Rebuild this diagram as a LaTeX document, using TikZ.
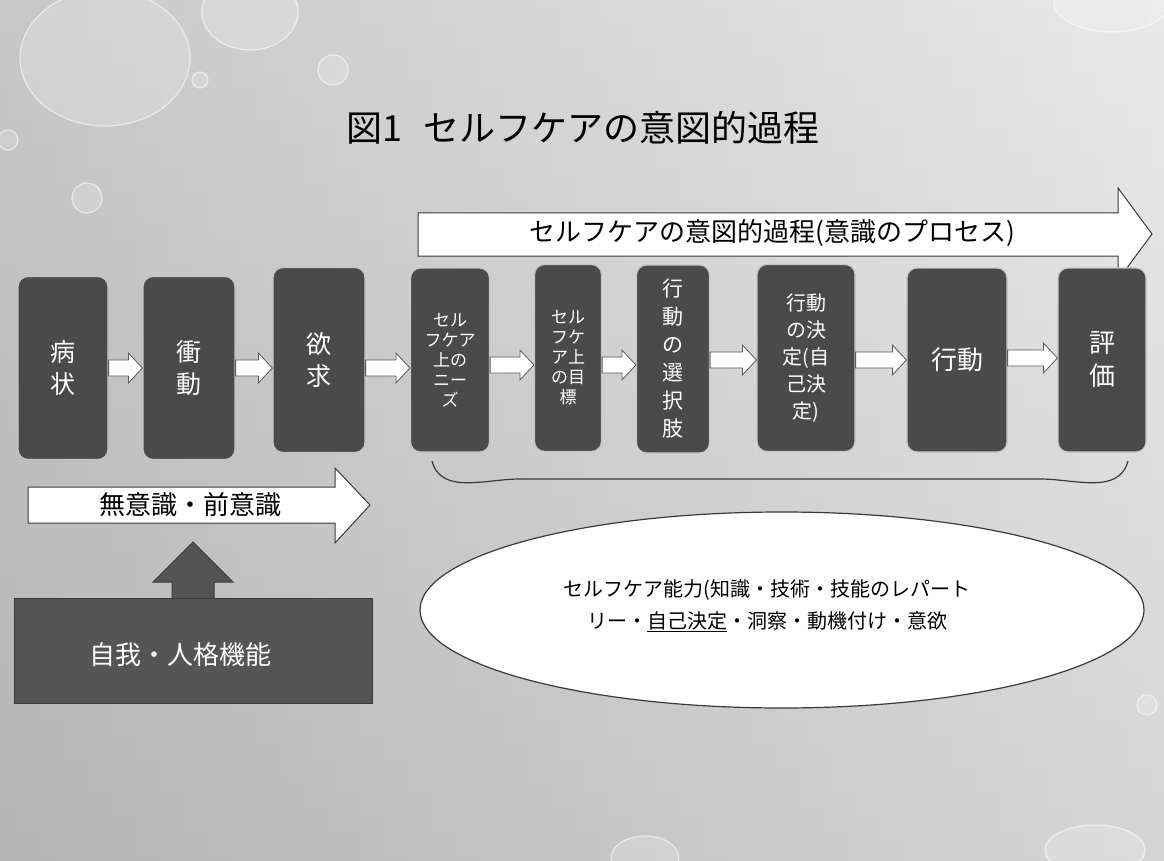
\documentclass[tikz,border=0pt]{standalone}
\usepackage{fontspec}
\setmainfont{Noto Sans CJK JP}
\usetikzlibrary{calc}
\definecolor{boxgray}{HTML}{4A4A4A}
\definecolor{darkgray2}{HTML}{555555}
\definecolor{edgegray}{HTML}{3A3A3A}
\tikzset{
  box/.style={rounded corners=10pt, fill=boxgray, draw=gray!45, line width=1.2pt,
    text=white, align=center, inner sep=0pt},
  barrowstyle/.style={fill=white, draw=gray!70!black, line width=0.8pt},
  bigarrow/.style={fill=white, draw=edgegray, line width=1pt},
  drop/.style={fill=white, fill opacity=0.2, draw=white, draw opacity=0.6, line width=1.2pt},
}
\newcommand\barrow[3]{%
  \path let \p1=(#1.east |- 0,#3), \p2=(#2.west |- 0,#3) in
  [barrowstyle] (\x1,{\y1+8pt}) -- ({\x2-14pt},{\y1+8pt}) -- ({\x2-14pt},{\y1+15pt})
  -- (\x2,\y1) -- ({\x2-14pt},{\y1-15pt}) -- ({\x2-14pt},{\y1-8pt}) -- (\x1,{\y1-8pt}) -- cycle;}
\begin{document}
\begin{tikzpicture}[x=1pt,y=-1pt]
\useasboundingbox (0,0) rectangle (1164,861);
% background
\shade[left color=gray!62, right color=gray!25] (0,0) rectangle (1164,861);
\shade[top color=white, bottom color=gray!50, opacity=0.3] (0,0) rectangle (1164,861);
% droplets
\draw[drop] (105,58) ellipse [x radius=85, y radius=68];
\draw[drop] (250,12) ellipse [x radius=48, y radius=38];
\draw[drop] (333,70) circle (15);
\draw[drop] (87,198) circle (15);
\draw[drop] (200,80) circle (8);
\draw[drop] (1112,2) ellipse [x radius=58, y radius=30];
\draw[drop] (645,858) ellipse [x radius=34, y radius=22];
\draw[drop] (1147,705) circle (10);
\draw[drop] (8,140) circle (10);
\draw[drop] (1095,850) ellipse [x radius=50, y radius=25];

% title
\node[font=\fontsize{36}{40}\selectfont] (title) at (583,128) {図1\hspace{0.6em}セルフケアの意図的過程};

% top big arrow
\path[bigarrow] (418,213) -- (1118,213) -- (1118,188) -- (1152,234) -- (1118,280) -- (1118,256) -- (418,256) -- cycle;
\node[font=\fontsize{26}{30}\selectfont] (toplabel) at (772,233) {セルフケアの意図的過程(意識のプロセス)};

% boxes
\node[box, font=\fontsize{25}{32}\selectfont, minimum width=90pt, minimum height=183pt] (b1) at (63,368) {病\\状};
\node[box, font=\fontsize{25}{32}\selectfont, minimum width=92pt, minimum height=183pt] (b2) at (189,368) {衝\\動};
\node[box, font=\fontsize{25}{32}\selectfont, minimum width=92pt, minimum height=185pt] (b3) at (319,360) {欲\\求};
\node[box, font=\fontsize{17}{20}\selectfont, minimum width=79pt, minimum height=184pt] (b4) at (450,360) {セル\\フケア\\上の\\ニー\\ズ};
\node[box, font=\fontsize{17}{20}\selectfont, minimum width=67pt, minimum height=187pt] (b5) at (568,358) {セル\\フケ\\ア上\\の目\\標};
\node[box, font=\fontsize{21}{28}\selectfont, minimum width=73pt, minimum height=188pt] (b6) at (673,359) {行\\動\\の\\選\\択\\肢};
\node[box, font=\fontsize{20}{27}\selectfont, minimum width=98pt, minimum height=187pt] (b7) at (806,358) {行動\\の決\\定(自\\己決\\定)};
\node[box, font=\fontsize{26}{30}\selectfont, minimum width=100pt, minimum height=184pt] (b8) at (957,360) {行動};
\node[box, font=\fontsize{26}{33}\selectfont, minimum width=88pt, minimum height=184pt] (b9) at (1102,360) {評\\価};

% arrows between boxes
\barrow{b1}{b2}{368}
\barrow{b2}{b3}{368}
\barrow{b3}{b4}{368}
\barrow{b4}{b5}{365}
\barrow{b5}{b6}{365}
\barrow{b6}{b7}{360}
\barrow{b7}{b8}{360}
\barrow{b8}{b9}{358}

% brace-like arc under boxes 4-9
\draw[edgegray, line width=1.2pt] (432,461) to[out=-75,in=180] (520,479) -- (1040,479) to[out=0,in=-105] (1128,461);

% unconscious arrow
\path[bigarrow] (28,487) -- (335,487) -- (335,468) -- (370,505) -- (335,543) -- (335,523) -- (28,523) -- cycle;
\node[font=\fontsize{26}{30}\selectfont] (uncon) at (190,505) {無意識・前意識};

% ego box and up arrow
\path[fill=darkgray2, draw=edgegray, line width=1pt] (172,599) -- (172,582) -- (153,582) -- (193,542) -- (233,582) -- (214,582) -- (214,599) -- cycle;
\node[fill=darkgray2, draw=edgegray, line width=1pt, minimum width=358pt, minimum height=105pt, inner sep=0pt] (ego) at (193,651) {};
\node[text=white, font=\fontsize{26}{30}\selectfont] (egolabel) at (180,655) {自我・人格機能};

% ellipse
\draw[fill=white, draw=edgegray, line width=1.2pt] (782,610) ellipse [x radius=362, y radius=98];
\node[align=center, font=\fontsize{20}{32}\selectfont] (ability) at (767,606)
  {セルフケア能力(知識・技術・技能のレパート\\
   リー・\underline{自己決定}・洞察・動機付け・意欲};
\end{tikzpicture}
\end{document}
